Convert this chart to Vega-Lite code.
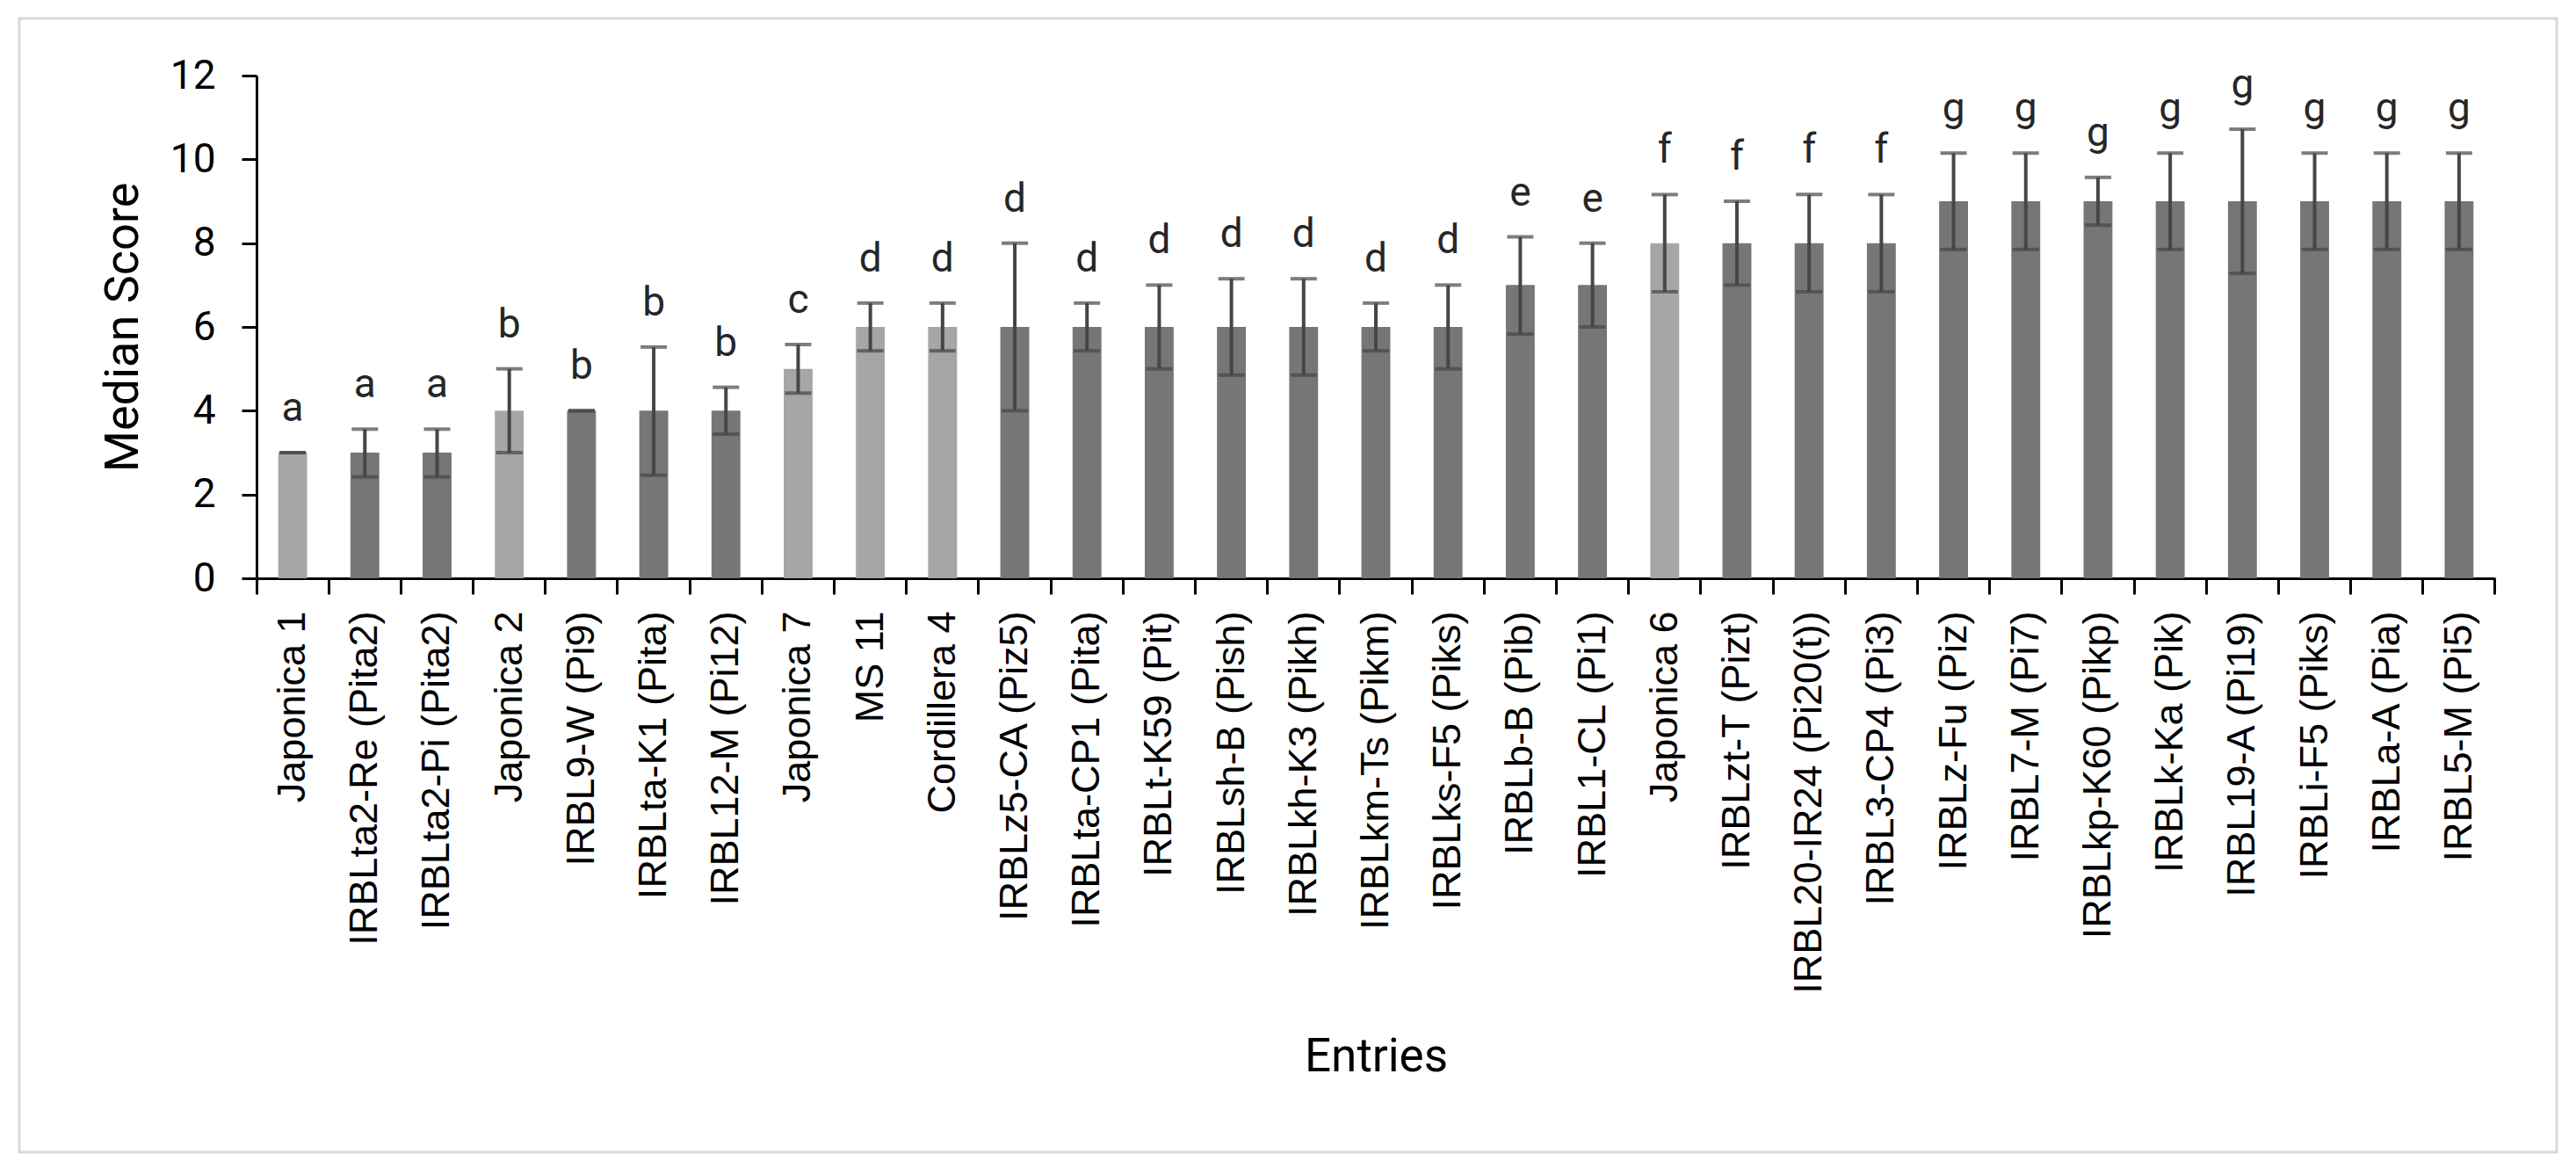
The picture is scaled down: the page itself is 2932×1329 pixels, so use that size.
{
  "$schema": "https://vega.github.io/schema/vega-lite/v6.json",
  "autosize": "none",
  "width": 2888,
  "height": 1290,
  "padding": {"left": 22, "top": 21, "right": 22, "bottom": 18},
  "background": "white",
  "config": {
    "view": {"stroke": "#d9d9d9", "strokeWidth": 3}
  },
  "data": {
    "values": [
      {"entry": "Japonica 1", "group": "check", "median": 3, "lo": 3, "hi": 3, "letter": "a"},
      {"entry": "IRBLta2-Re (Pita2)", "group": "line", "median": 3, "lo": 2.42, "hi": 3.56, "letter": "a"},
      {"entry": "IRBLta2-Pi (Pita2)", "group": "line", "median": 3, "lo": 2.42, "hi": 3.56, "letter": "a"},
      {"entry": "Japonica 2", "group": "check", "median": 4, "lo": 3, "hi": 5, "letter": "b"},
      {"entry": "IRBL9-W (Pi9)", "group": "line", "median": 4, "lo": 4, "hi": 4, "letter": "b"},
      {"entry": "IRBLta-K1 (Pita)", "group": "line", "median": 4, "lo": 2.46, "hi": 5.52, "letter": "b"},
      {"entry": "IRBL12-M (Pi12)", "group": "line", "median": 4, "lo": 3.44, "hi": 4.56, "letter": "b"},
      {"entry": "Japonica 7", "group": "check", "median": 5, "lo": 4.42, "hi": 5.58, "letter": "c"},
      {"entry": "MS 11", "group": "check", "median": 6, "lo": 5.43, "hi": 6.57, "letter": "d"},
      {"entry": "Cordillera 4", "group": "check", "median": 6, "lo": 5.43, "hi": 6.57, "letter": "d"},
      {"entry": "IRBLz5-CA (Piz5)", "group": "line", "median": 6, "lo": 4, "hi": 8, "letter": "d"},
      {"entry": "IRBLta-CP1 (Pita)", "group": "line", "median": 6, "lo": 5.43, "hi": 6.57, "letter": "d"},
      {"entry": "IRBLt-K59 (Pit)", "group": "line", "median": 6, "lo": 5, "hi": 7, "letter": "d"},
      {"entry": "IRBLsh-B (Pish)", "group": "line", "median": 6, "lo": 4.85, "hi": 7.15, "letter": "d"},
      {"entry": "IRBLkh-K3 (Pikh)", "group": "line", "median": 6, "lo": 4.85, "hi": 7.15, "letter": "d"},
      {"entry": "IRBLkm-Ts (Pikm)", "group": "line", "median": 6, "lo": 5.43, "hi": 6.57, "letter": "d"},
      {"entry": "IRBLks-F5 (Piks)", "group": "line", "median": 6, "lo": 5, "hi": 7, "letter": "d"},
      {"entry": "IRBLb-B (Pib)", "group": "line", "median": 7, "lo": 5.83, "hi": 8.15, "letter": "e"},
      {"entry": "IRBL1-CL (Pi1)", "group": "line", "median": 7, "lo": 6, "hi": 8, "letter": "e"},
      {"entry": "Japonica 6", "group": "check", "median": 8, "lo": 6.84, "hi": 9.16, "letter": "f"},
      {"entry": "IRBLzt-T (Pizt)", "group": "line", "median": 8, "lo": 7, "hi": 9, "letter": "f"},
      {"entry": "IRBL20-IR24 (Pi20(t))", "group": "line", "median": 8, "lo": 6.84, "hi": 9.16, "letter": "f"},
      {"entry": "IRBL3-CP4 (Pi3)", "group": "line", "median": 8, "lo": 6.84, "hi": 9.16, "letter": "f"},
      {"entry": "IRBLz-Fu (Piz)", "group": "line", "median": 9, "lo": 7.85, "hi": 10.15, "letter": "g"},
      {"entry": "IRBL7-M (Pi7)", "group": "line", "median": 9, "lo": 7.85, "hi": 10.15, "letter": "g"},
      {"entry": "IRBLkp-K60 (Pikp)", "group": "line", "median": 9, "lo": 8.43, "hi": 9.57, "letter": "g"},
      {"entry": "IRBLk-Ka (Pik)", "group": "line", "median": 9, "lo": 7.85, "hi": 10.15, "letter": "g"},
      {"entry": "IRBL19-A (Pi19)", "group": "line", "median": 9, "lo": 7.28, "hi": 10.72, "letter": "g"},
      {"entry": "IRBLi-F5 (Piks)", "group": "line", "median": 9, "lo": 7.85, "hi": 10.15, "letter": "g"},
      {"entry": "IRBLa-A (Pia)", "group": "line", "median": 9, "lo": 7.85, "hi": 10.15, "letter": "g"},
      {"entry": "IRBL5-M (Pi5)", "group": "line", "median": 9, "lo": 7.85, "hi": 10.15, "letter": "g"}
    ]
  },
  "encoding": {
    "x": {
      "field": "entry",
      "type": "nominal",
      "sort": null,
      "scale": {"range": [270, 2818], "paddingInner": 0, "paddingOuter": 0},
      "axis": {
        "title": "Entries",
        "orient": "bottom",
        "offset": -653,
        "labelAngle": -90,
        "labelFont": "Liberation Sans",
        "labelFontSize": 45,
        "labelColor": "#000000",
        "labelLimit": 800,
        "labelOverlap": false,
        "labelPadding": 19,
        "bandPosition": 1,
        "tickExtra": true,
        "tickSize": 18,
        "tickWidth": 3,
        "tickColor": "#000000",
        "domainColor": "#000000",
        "domainWidth": 3,
        "titleFont": "Roboto",
        "titleFontSize": 53,
        "titleFontWeight": "normal",
        "titleColor": "#000000",
        "titlePadding": 318
      }
    }
  },
  "layer": [
    {
      "mark": {"type": "bar", "width": {"band": 0.4}},
      "encoding": {
        "y": {
          "field": "median",
          "type": "quantitative",
          "scale": {"domain": [0, 12], "range": [637, 65], "nice": false},
          "axis": {
            "title": "Median Score",
            "orient": "left",
            "offset": -270,
            "values": [0, 2, 4, 6, 8, 10, 12],
            "format": "d",
            "grid": false,
            "labelFont": "Roboto",
            "labelFontSize": 46,
            "labelColor": "#000000",
            "labelPadding": 30,
            "tickSize": 17,
            "tickWidth": 3,
            "tickColor": "#000000",
            "domainColor": "#000000",
            "domainWidth": 3,
            "titleFont": "Roboto",
            "titleFontSize": 54,
            "titleFontWeight": "normal",
            "titleColor": "#000000",
            "titlePadding": 26
          }
        },
        "color": {
          "field": "group",
          "type": "nominal",
          "scale": {"domain": ["check", "line"], "range": ["#a6a6a6", "#767676"]},
          "legend": null
        }
      }
    },
    {
      "mark": {"type": "rule", "color": "#464646", "strokeWidth": 4},
      "encoding": {
        "y": {"field": "lo", "type": "quantitative"},
        "y2": {"field": "hi"}
      }
    },
    {
      "mark": {"type": "tick", "orient": "horizontal", "color": "#464646", "size": 30, "thickness": 4},
      "encoding": {
        "y": {"field": "hi", "type": "quantitative"}
      }
    },
    {
      "mark": {"type": "tick", "orient": "horizontal", "color": "#464646", "size": 30, "thickness": 4},
      "encoding": {
        "y": {"field": "lo", "type": "quantitative"}
      }
    },
    {
      "mark": {"type": "text", "font": "Roboto", "fontSize": 46, "color": "#262626", "baseline": "alphabetic", "dy": -36},
      "encoding": {
        "y": {"field": "hi", "type": "quantitative"},
        "text": {"field": "letter", "type": "nominal"}
      }
    }
  ]
}
